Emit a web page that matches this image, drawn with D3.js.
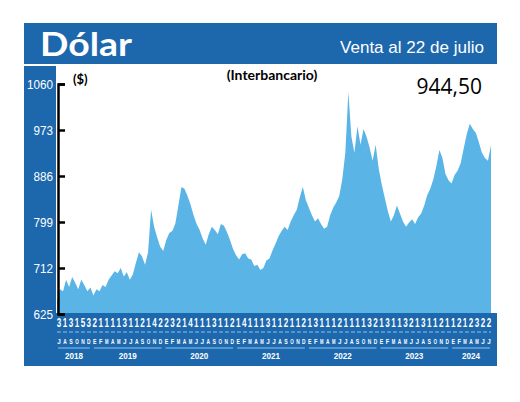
<!DOCTYPE html>
<html><head><meta charset="utf-8">
<script src="https://cdn.jsdelivr.net/npm/d3@7"></script>
<style>body{margin:0;background:#fff}</style>
</head><body>
<svg id="chart" width="520" height="402"></svg>
<script>
// dólar interbancario, dos valores por mes desde julio 2018
const valores = [
  650, 672, 668, 690, 676, 695, 684, 672, 690, 680, 668, 675,
  660, 672, 668, 680, 676, 690, 698, 706, 702, 712, 696, 704,
  690, 700, 722, 742, 734, 718, 742, 822, 790, 770, 752, 744,
  765, 778, 782, 796, 830, 865, 862, 848, 832, 812, 795, 784,
  768, 756, 776, 790, 784, 776, 795, 792, 780, 765, 748, 736,
  728, 738, 740, 730, 728, 716, 718, 708, 712, 726, 730, 745,
  758, 772, 782, 790, 784, 800, 812, 822, 846, 865, 840, 826,
  812, 800, 806, 795, 786, 790, 812, 826, 836, 848, 880, 930,
  1045, 960, 930, 980, 945, 975, 960, 940, 915, 945, 900, 870,
  845, 820, 800, 812, 830, 815, 800, 790, 798, 804, 795, 808,
  815, 830, 850, 862, 880, 905, 935, 920, 890, 878, 872, 888,
  896, 910, 938, 965, 985, 975, 968, 950, 930, 920, 915, 944
];
const digitos = "3131532111131121422321411" + "131121411131121121311121" + "111321311321311211212322";
const meses = ["E","F","M","A","M","J","J","A","S","O","N","D"];
const anios = [2018, 2019, 2020, 2021, 2022, 2023, 2024];
const yTicks = [625, 712, 799, 886, 973, 1060];

const azul = "#1d67ad", celeste = "#5ab5e6";
const svg = d3.select("#chart");
const nMeses = 73;
const angosta = "'Liberation Sans', sans-serif";

svg.append("rect").attr("x", 24).attr("y", 23).attr("width", 473).attr("height", 41).attr("fill", azul);
svg.append("rect").attr("x", 24).attr("y", 66).attr("width", 32).attr("height", 300).attr("fill", azul);
svg.append("rect").attr("x", 24).attr("y", 313).attr("width", 473).attr("height", 53).attr("fill", azul);

svg.append("text").attr("x", 40).attr("y", 56).attr("fill", "#fff")
  .style("font-family", "Lato").style("font-weight", "bold").style("font-size", "33px")
  .attr("textLength", 92).attr("lengthAdjust", "spacingAndGlyphs")
  .text("Dólar");
svg.append("text").attr("x", 340).attr("y", 53).attr("fill", "#fff")
  .style("font-family", angosta).style("font-size", "17px")
  .attr("textLength", 144).attr("lengthAdjust", "spacingAndGlyphs")
  .text("Venta al 22 de julio");

const x = d3.scaleLinear().domain([0, valores.length - 1]).range([57, 491]);
const y = d3.scaleLinear().domain([625, 1060]).range([314, 84]);

svg.append("path").datum(valores)
  .attr("fill", celeste)
  .attr("d", d3.area().x((d, i) => x(i)).y0(313).y1(d => y(d)));

const ejeY = svg.append("g").attr("transform", "translate(58,0)")
  .call(d3.axisRight(y).tickValues(yTicks).tickSize(7).tickFormat(""));
ejeY.select(".domain").attr("stroke", "#000").attr("stroke-width", 2.5);
ejeY.selectAll(".tick line").attr("stroke", "#000").attr("stroke-width", 2.5);
svg.selectAll(".ylab").data(yTicks).join("text")
  .attr("x", 53).attr("y", d => y(d) + 5).attr("text-anchor", "end").attr("fill", "#fff")
  .style("font-family", angosta).style("font-size", "13px")
  .attr("textLength", d => String(d).length * 6.5).attr("lengthAdjust", "spacingAndGlyphs")
  .text(d => d);

svg.append("text").attr("x", 73).attr("y", 84).style("font-family", "Lato")
  .style("font-weight", "bold").style("font-size", "13px").text("($)");
svg.append("text").attr("x", 272).attr("y", 80).attr("text-anchor", "middle").style("font-family", "Lato")
  .style("font-weight", "bold").style("font-size", "14px").text("(Interbancario)");
svg.append("text").attr("x", 482).attr("y", 94).attr("text-anchor", "end").style("font-family", "'Open Sans'")
  .style("font-size", "21px").text("944,50");

const xm = d3.scaleLinear().domain([0, nMeses]).range([56, 492]);
const idx = d3.range(nMeses);
svg.selectAll(".dig").data(idx).join("text")
  .attr("x", i => xm(i + 0.5)).attr("y", 327).attr("text-anchor", "middle").attr("fill", "#fff")
  .style("font-family", angosta).style("font-weight", "bold").style("font-size", "12px")
  .attr("textLength", 4.5).attr("lengthAdjust", "spacingAndGlyphs")
  .text(i => digitos[i]);
svg.append("line").attr("x1", 57).attr("x2", 491).attr("y1", 332).attr("y2", 332)
  .attr("stroke", "#8cc4ee").attr("stroke-dasharray", "4,2");
svg.selectAll(".mes").data(idx).join("text")
  .attr("x", i => xm(i + 0.5)).attr("y", 344).attr("text-anchor", "middle").attr("fill", "#fff")
  .style("font-family", angosta).style("font-weight", "bold").style("font-size", "8px")
  .attr("textLength", 3.5).attr("lengthAdjust", "spacingAndGlyphs")
  .text(i => meses[(i + 6) % 12]);
anios.forEach((a, k) => {
  const ini = k === 0 ? 0 : 6 + (k - 1) * 12;
  const fin = k === 0 ? 6 : Math.min(ini + 12, nMeses);
  svg.append("line").attr("x1", xm(ini) + 2).attr("x2", xm(fin) - 2).attr("y1", 348).attr("y2", 348)
    .attr("stroke", "#8cc4ee").attr("stroke-width", 1);
  svg.append("text").attr("x", (xm(ini) + xm(fin)) / 2).attr("y", 359).attr("text-anchor", "middle")
    .attr("fill", "#fff").style("font-family", angosta).style("font-weight", "bold").style("font-size", "9px")
    .attr("textLength", 18).attr("lengthAdjust", "spacingAndGlyphs")
    .text(a);
});
</script>
</body></html>
